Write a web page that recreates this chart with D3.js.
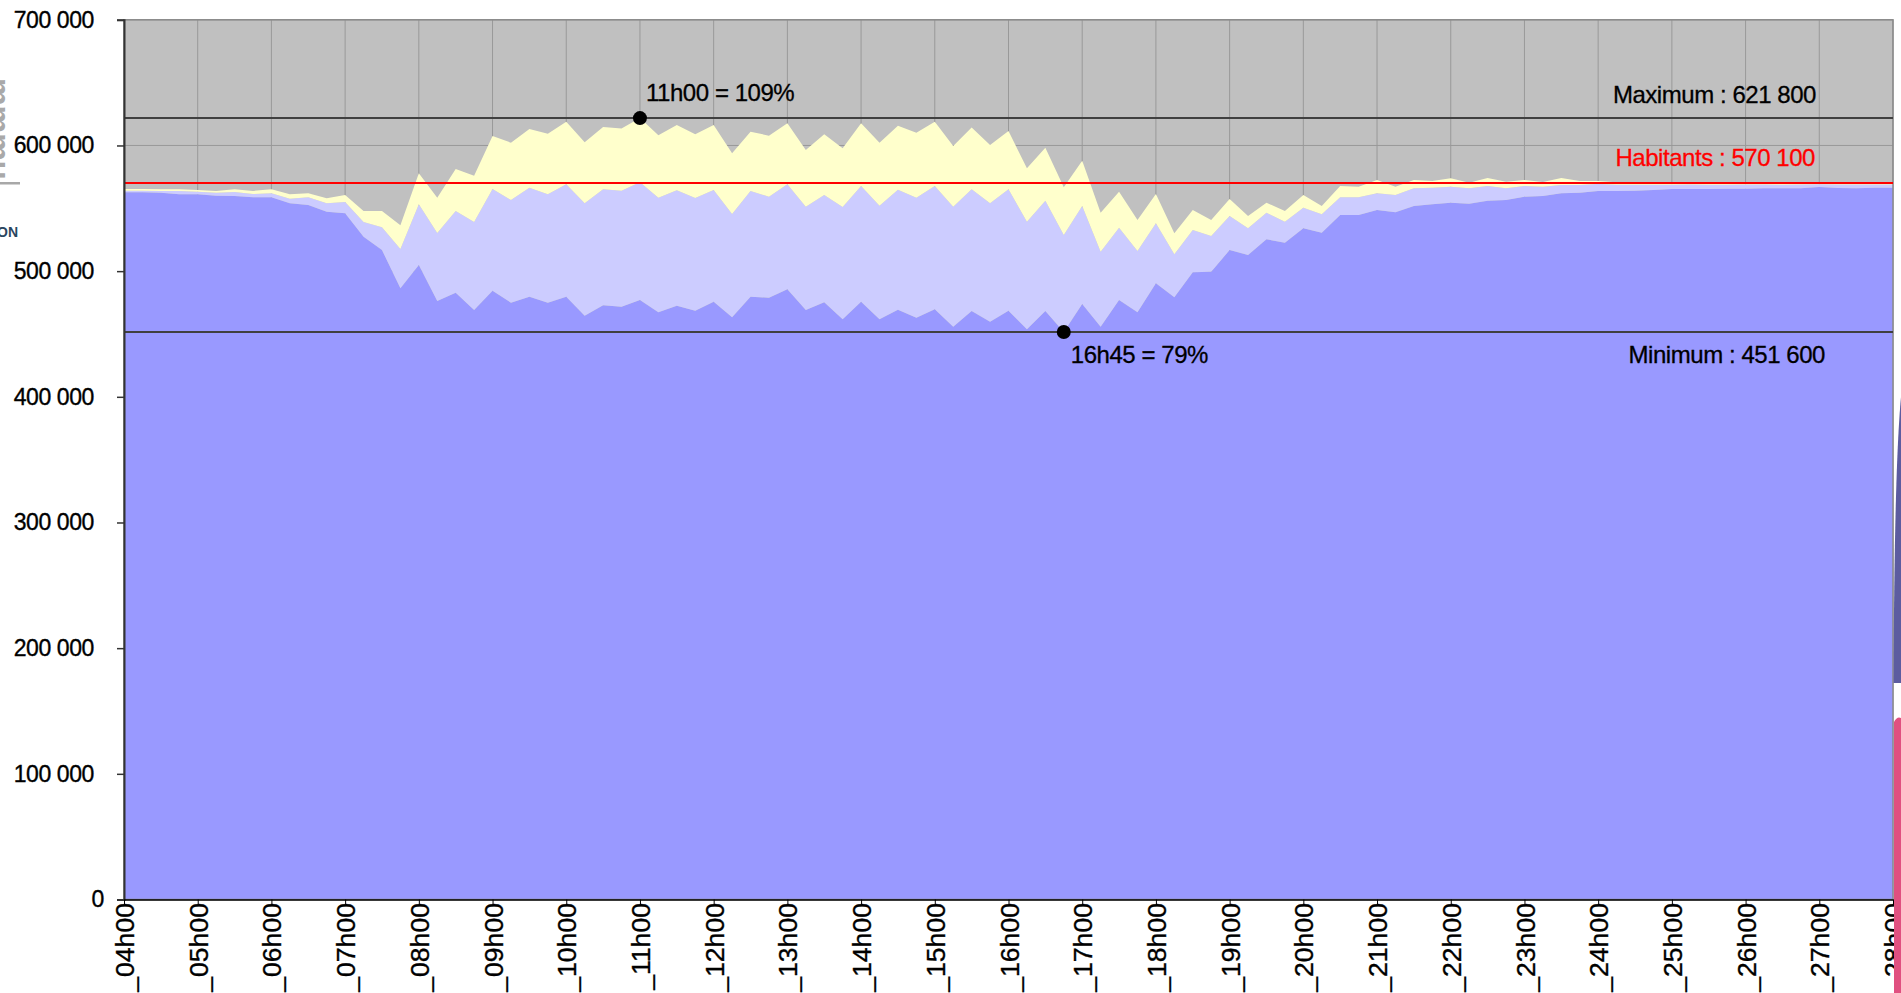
<!DOCTYPE html>
<html>
<head>
<meta charset="utf-8">
<script src="https://cdn.jsdelivr.net/npm/d3@7"></script>
<style>
  html, body { margin: 0; padding: 0; background: #fff; overflow: hidden; }
  svg { display: block; font-family: "Liberation Sans", Arial, sans-serif; }
</style>
</head>
<body>
<svg id="chart" width="1901" height="993"></svg>
<script>
// hour labels, one every 4 quarter-hours
var hourLabels = ["_04h00", "_05h00", "_06h00", "_07h00", "_08h00", "_09h00", "_10h00",
                  "_11h00", "_12h00", "_13h00", "_14h00", "_15h00", "_16h00", "_17h00",
                  "_18h00", "_19h00", "_20h00", "_21h00", "_22h00", "_23h00", "_24h00",
                  "_25h00", "_26h00", "_27h00", "_28h00"];
var yTicks = [0, 100000, 200000, 300000, 400000, 500000, 600000, 700000];

// quarter-hour values 04h00 -> 28h00 (97 points)
var residents = [
  562700, 562700, 562400, 561100, 561100, 560000, 559800, 558700, 558700, 554000,
  552600, 547300, 546000, 527400, 516800, 486300, 504900, 476200, 482800, 469100,
  484400, 474900, 479600, 474900, 479600, 464500, 472800, 471700, 477000, 467200,
  472500, 468500, 475700, 463300, 479600, 478900, 485500, 469100, 475200, 461700,
  475700, 461700, 469300, 462900, 469600, 455800, 468300, 459800, 468500, 453700,
  468300, 451600, 473800, 455800, 477000, 467200, 490300, 479200, 499100, 499500,
  516800, 512800, 525300, 522600, 534100, 530600, 544700, 544700, 548600, 546800,
  551800, 553200, 554400, 553700, 556000, 556600, 559200, 559800, 561900, 562400,
  563800, 563800, 564000, 564500, 565300, 565300, 565300, 565600, 565600, 565900,
  565900, 565900, 566900, 566100, 565900, 566400, 566400];
var midLevel = [
  564000, 564000, 563800, 563800, 563200, 562400, 563000, 561400, 561900, 557600,
  558700, 554000, 555000, 539100, 534900, 517600, 553200, 530300, 547800, 539100,
  565300, 556600, 566400, 561100, 569100, 554000, 565100, 564000, 570700, 558400,
  564300, 558200, 564600, 545500, 563800, 559200, 569100, 551300, 560600, 551000,
  567700, 552100, 564800, 558400, 567700, 551300, 565100, 554000, 565100, 539300,
  556000, 528700, 551800, 515500, 534600, 516000, 538100, 513400, 532700, 528000,
  543900, 534100, 546500, 539300, 550500, 545200, 558700, 558700, 561900, 560600,
  565900, 566400, 567200, 565900, 567700, 565900, 567700, 567200, 568500, 568500,
  569300, 568800, 568700, 568800, 568800, 568900, 568800, 568800, 568900, 568900,
  568800, 568900, 569100, 568900, 568900, 569000, 569000];
var total = [
  565300, 565300, 565100, 565100, 564600, 563800, 565100, 563800, 565100, 561100,
  561900, 558000, 560600, 547800, 547800, 536500, 577800, 558400, 581300, 575900,
  607500, 602200, 613100, 609400, 618900, 602500, 614700, 613600, 621800, 608100,
  616300, 608900, 616300, 593800, 610900, 607800, 617600, 596400, 608900, 597700,
  617600, 602200, 615700, 610100, 618900, 599600, 614400, 600400, 611500, 581800,
  598200, 566700, 587900, 546500, 563200, 540700, 561400, 530100, 548600, 540700,
  557400, 543900, 554400, 547800, 560600, 551800, 567700, 567200, 572500, 567200,
  572500, 571700, 573900, 570400, 574100, 571200, 572500, 570900, 574100, 571700,
  571700, 570700, 570700, 570700, 570700, 570600, 570600, 570700, 570600, 570600,
  570700, 570600, 570600, 570600, 570500, 570600, 570600];

var habitants = 570100;
var maximum = 621800, maxIndex = 28, maxLabel = "11h00 = 109%";
var minimum = 451600, minIndex = 51, minLabel = "16h45 = 79%";

var svg = d3.select("#chart");
// plot frame (note: "top" is reserved on window, so plot* names)
var plotL = 124, plotR = 1893, plotT = 19.8, plotB = 899.5;

var x = d3.scaleLinear().domain([0, residents.length - 1]).range([plotL, plotR]);
var y = d3.scaleLinear().domain([0, 700000]).range([plotB, plotT]);
var fmt = d3.formatLocale({decimal: ",", thousands: " ", grouping: [3], currency: ["", ""]}).format(",");

// plot background
svg.append("rect")
    .attr("x", plotL).attr("y", plotT)
    .attr("width", plotR - plotL).attr("height", plotB - plotT)
    .attr("fill", "#c0c0c0");

// grid
svg.append("g").selectAll("line")
    .data(hourLabels)
    .enter().append("line")
    .attr("x1", (d, i) => x(i * 4)).attr("x2", (d, i) => x(i * 4))
    .attr("y1", plotT).attr("y2", plotB)
    .attr("stroke", "#999").attr("stroke-width", 1);
svg.append("g").selectAll("line")
    .data(yTicks)
    .enter().append("line")
    .attr("x1", plotL).attr("x2", plotR)
    .attr("y1", d => y(d)).attr("y2", d => y(d))
    .attr("stroke", "#999").attr("stroke-width", 1);

// layers
var layers = [
  {lo: residents.map(() => 0), hi: residents, color: "#9999ff"},
  {lo: residents, hi: midLevel, color: "#ccccff"},
  {lo: midLevel, hi: total, color: "#ffffcc"}
];
layers.forEach(function (l) {
  var area = d3.area()
      .x((d, i) => x(i))
      .y0((d, i) => y(l.lo[i]))
      .y1((d, i) => y(l.hi[i]));
  svg.append("path")
      .datum(l.hi)
      .attr("d", area)
      .attr("fill", l.color);
});

// plot border
svg.append("rect")
    .attr("x", plotL).attr("y", plotT)
    .attr("width", plotR - plotL).attr("height", plotB - plotT)
    .attr("fill", "none").attr("stroke", "#8a8a8a").attr("stroke-width", 1.5);

// reference lines
function hline(v, color) {
  svg.append("line")
      .attr("x1", plotL).attr("x2", plotR)
      .attr("y1", y(v)).attr("y2", y(v))
      .attr("stroke", color).attr("stroke-width", 2);
}
hline(maximum, "#404040");
hline(minimum, "#404040");
hline(habitants, "#ff0000");

// axes
var yAxis = d3.axisLeft(y).tickValues(yTicks).tickFormat(fmt).tickSize(7).tickPadding(23);
var gy = svg.append("g").attr("transform", "translate(" + plotL + ",0)").call(yAxis);
gy.select(".domain").attr("stroke", "#333").attr("stroke-width", 2);
gy.selectAll(".tick line").attr("stroke", "#333").attr("stroke-width", 1.5);
gy.selectAll("text")
    .attr("font-family", "Liberation Sans, Arial, sans-serif")
    .attr("font-size", 23).attr("fill", "#000")
    .attr("stroke", "#000").attr("stroke-width", 0.35)
    .attr("letter-spacing", -0.4)
    .attr("dx", d => d === 0 ? 10 : 0);  // the zero sits further right in the original

var xAxis = d3.axisBottom(x)
    .tickValues(d3.range(0, residents.length, 4))
    .tickFormat((d, i) => hourLabels[i])
    .tickSize(6).tickSizeOuter(0);
var gx = svg.append("g").attr("transform", "translate(0," + plotB + ")").call(xAxis);
gx.select(".domain").attr("stroke", "#000").attr("stroke-width", 1.5);
gx.selectAll(".tick line").attr("stroke", "#000");
gx.selectAll("text")
    .attr("font-family", "Liberation Sans, Arial, sans-serif")
    .attr("font-size", 26.6).attr("fill", "#000")
    .attr("stroke", "#000").attr("stroke-width", 0.35)
    .attr("text-anchor", "end")
    .attr("transform", "rotate(-90)")
    .attr("x", -3.5).attr("y", 0).attr("dy", "0.36em");

// annotations
svg.append("circle").attr("cx", x(maxIndex)).attr("cy", y(maximum)).attr("r", 7).attr("fill", "#000");
svg.append("circle").attr("cx", x(minIndex)).attr("cy", y(minimum)).attr("r", 7).attr("fill", "#000");

var notes = [
  {text: maxLabel, x: x(maxIndex) + 6, y: y(maximum) - 17, anchor: "start", color: "#000"},
  {text: minLabel, x: x(minIndex) + 7, y: y(minimum) + 31, anchor: "start", color: "#000"},
  {text: "Maximum : " + fmt(maximum), x: 1816, y: y(maximum) - 15, anchor: "end", color: "#000"},
  {text: "Habitants : " + fmt(habitants), x: 1815, y: y(habitants) - 17, anchor: "end", color: "#ff0000"},
  {text: "Minimum : " + fmt(minimum), x: 1825, y: y(minimum) + 31, anchor: "end", color: "#000"}
];
svg.append("g").selectAll("text")
    .data(notes)
    .enter().append("text")
    .attr("x", d => d.x).attr("y", d => d.y)
    .attr("text-anchor", d => d.anchor)
    .attr("fill", d => d.color)
    .attr("stroke", d => d.color).attr("stroke-width", 0.3)
    .attr("font-size", 24)
    .attr("letter-spacing", -0.45)
    .text(d => d.text);

// bits of neighbouring pictures cut by the frame
svg.append("text")
    .attr("transform", "translate(-12,78) rotate(90)")
    .attr("font-size", 31).attr("font-weight", "bold").attr("fill", "#a9a9a9")
    .text("mmmu");
svg.append("rect").attr("x", 0).attr("y", 182).attr("width", 20).attr("height", 2.5).attr("fill", "#a8a8a8");
svg.append("text").attr("x", 18).attr("y", 237).attr("text-anchor", "end")
    .attr("font-size", 14).attr("font-weight", "bold").attr("fill", "#2b4660").text("ON");
svg.append("path")
    .attr("d", "M1893.5,683 C1894,560 1896,450 1901,397 L1901,683 Z")
    .attr("fill", "#5c5ca0");
svg.append("path")
    .attr("d", "M1894,993 L1894,722 Q1897,716 1901,718 L1901,993 Z")
    .attr("fill", "#e05080");
</script>
</body>
</html>
